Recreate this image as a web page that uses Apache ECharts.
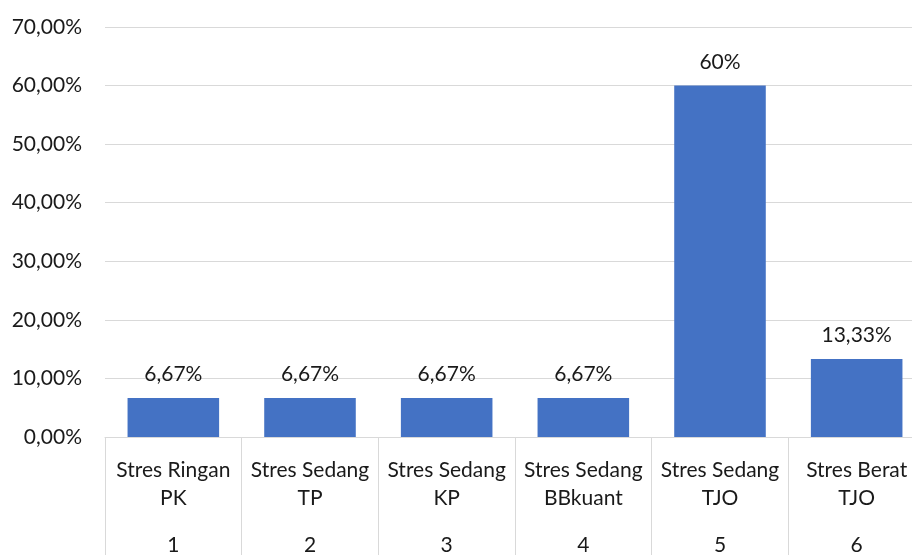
<!DOCTYPE html>
<html>
<head>
<meta charset="utf-8">
<script src="https://cdn.jsdelivr.net/npm/echarts@6/dist/echarts.min.js"></script>
<style>
  html, body { margin: 0; padding: 0; background: #fff; }
  #chart { width: 912px; height: 555px; }
</style>
</head>
<body>
<div id="chart"></div>
<script>
// Stress levels per group
const categoryNames = ['Stres Ringan\nPK', 'Stres Sedang\nTP', 'Stres Sedang\nKP', 'Stres Sedang\nBBkuant', 'Stres Sedang\nTJO', 'Stres Berat\nTJO'];
const categoryNumbers = ['1', '2', '3', '4', '5', '6'];
const percentValues = [6.67, 6.67, 6.67, 6.67, 60, 13.33];
const yTicks = { min: 0, max: 70, interval: 10 };

const FONT = 'Lato';
const TEXT = '#1a1a1a';
const LINE = '#d9d9d9';

function pct(v) {
  return Number.isInteger(v) ? v + '%' : v.toFixed(2).replace('.', ',') + '%';
}

const chart = echarts.init(document.getElementById('chart'));
chart.setOption({
  animation: false,
  textStyle: { fontFamily: FONT },
  grid: { left: 105, top: 27, width: 820, bottom: 118, containLabel: false, outerBoundsMode: 'none' },
  xAxis: [
    {
      type: 'category',
      data: categoryNames,
      position: 'bottom',
      axisLine: { lineStyle: { color: LINE, width: 1 } },
      axisTick: { show: true, length: 125, lineStyle: { color: LINE, width: 1 } },
      axisLabel: { color: TEXT, fontSize: 21, lineHeight: 28, margin: 19, interval: 0, fontFamily: FONT }
    },
    {
      type: 'category',
      data: categoryNumbers,
      position: 'bottom',
      axisLine: { show: false },
      axisTick: { show: false },
      axisLabel: { color: TEXT, fontSize: 21, lineHeight: 22, margin: 97, interval: 0, fontFamily: FONT }
    }
  ],
  yAxis: {
    type: 'value',
    min: yTicks.min,
    max: yTicks.max,
    interval: yTicks.interval,
    axisLine: { show: false },
    axisTick: { show: false },
    splitLine: { lineStyle: { color: LINE, width: 1 } },
    axisLabel: { color: TEXT, fontSize: 21, margin: 23, fontFamily: FONT, formatter: v => v.toFixed(2).replace('.', ',') + '%' }
  },
  series: [{
    type: 'bar',
    data: percentValues,
    xAxisIndex: 0,
    barCategoryGap: '33%',
    itemStyle: { color: '#4472c4' },
    label: {
      show: true,
      position: 'top',
      distance: 13,
      color: TEXT,
      fontSize: 21,
      fontFamily: FONT,
      formatter: p => pct(p.value)
    }
  }]
});
</script>
</body>
</html>
